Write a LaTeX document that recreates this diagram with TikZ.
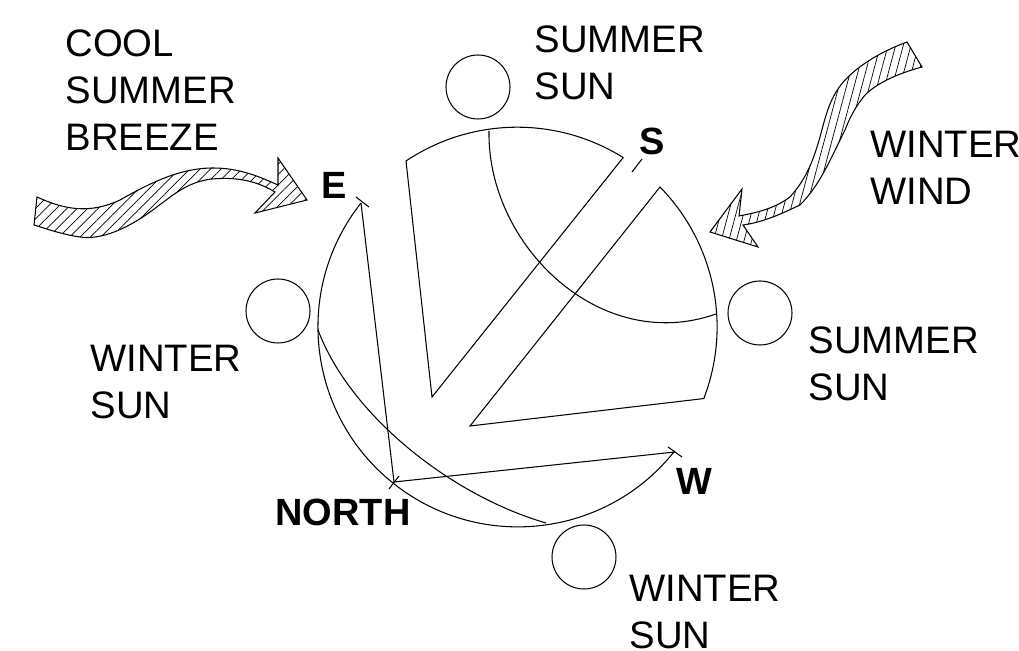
\documentclass[tikz,border=0pt]{standalone}
\usepackage{fontspec}
\setmainfont{Liberation Sans}
\usetikzlibrary{patterns.meta}
\begin{document}
\begin{tikzpicture}[x=0.02cm, y=-0.02cm, line width=0.6pt,
    sun/.style={circle, draw, minimum size=1.28cm, inner sep=0pt},
    caption/.style={anchor=north west, align=left, inner sep=0pt, font=\fontsize{21.8}{26.7}\selectfont},
    compass/.style={anchor=north west, inner sep=0pt, font=\fontsize{21.6}{27}\selectfont\bfseries}]
	  \useasboundingbox (0,0) rectangle (1019,651);
	  % compass corners
	  \coordinate (east) at (361,203);
	  \coordinate (west) at (675,452);
	  \coordinate (north) at (394,482);
	  % horizon and walls
	  \draw (east) arc[start angle=141.7, end angle=321.7, radius=4cm];
	  \draw (east) -- (north) -- (west);
	  \draw (356,197) -- (369,207);
	  \draw (668,447) -- (682,457);
	  \draw (389,489) -- (399,476);
	  \draw (632,172) -- (642,159);
	  % the two wedges
	  \draw (432,397) -- (406,161) arc[start angle=123.8, end angle=58, radius=4cm] -- cycle;
	  \draw (470,426) -- (660,187) arc[start angle=44.4, end angle=-21, radius=4cm] -- cycle;
	  % sun paths
	  \draw (489,131) .. controls (487,245) and (600,355) .. (716,314);
	  \draw (318,330) .. controls (350,415) and (450,495) .. (546,523);
	  % suns
	  \node[sun] (sunTop) at (478,87) {};
	  \node[sun] (sunLeft) at (278,311) {};
	  \node[sun] (sunRight) at (760,313) {};
	  \node[sun] (sunBottom) at (584,557) {};
	  % breeze
	  \draw[pattern={Lines[angle=45,distance=4.2pt,line width=0.4pt]}]
	    (37,197) .. controls (65,210) and (90,214) .. (120,200)
	    .. controls (150,183) and (180,168) .. (213,168)
	    .. controls (240,168) and (260,177) .. (278,185)
	    -- (278,158) -- (307,200) -- (255,213) -- (275,192)
	    .. controls (255,180) and (235,177) .. (212,179)
	    .. controls (185,182) and (170,198) .. (150,212)
	    .. controls (125,230) and (100,240) .. (80,237)
	    .. controls (65,235) and (50,230) .. (34,225) -- cycle;
	  % wind
	  \draw[pattern={Lines[angle=75,distance=4.2pt,line width=0.4pt]}]
	    (907,42) .. controls (880,52) and (860,65) .. (847,78)
	    .. controls (830,95) and (826,115) .. (820,137)
	    .. controls (812,165) and (805,180) .. (790,197)
	    .. controls (775,208) and (760,212) .. (739,216)
	    -- (742,189) -- (710,232) -- (758,247) -- (743,225)
	    .. controls (765,222) and (785,212) .. (800,205)
	    .. controls (820,185) and (830,160) .. (845,130)
	    .. controls (852,112) and (858,104) .. (865,95)
	    .. controls (878,82) and (900,73) .. (922,67) -- cycle;
	  % texts
	  \node[caption] (breezeText) at (65,29) {COOL\\SUMMER\\BREEZE};
	  \node[caption] (sunTopText) at (534,25) {SUMMER\\SUN};
	  \node[caption] (windText) at (870,131) {WINTER\\WIND};
	  \node[caption] (sunRightText) at (808,326) {SUMMER\\SUN};
	  \node[caption] (sunLeftText) at (90,345) {WINTER\\SUN};
	  \node[caption] (sunBottomText) at (629,575) {WINTER\\SUN};
	  \node[compass] (labelS) at (639,127) {S};
	  \node[compass] (labelE) at (321,172) {E};
	  \node[compass] (labelW) at (676,468) {W};
	  \node[compass] (labelN) at (275,498) {NORTH};
	\end{tikzpicture}
\end{document}
